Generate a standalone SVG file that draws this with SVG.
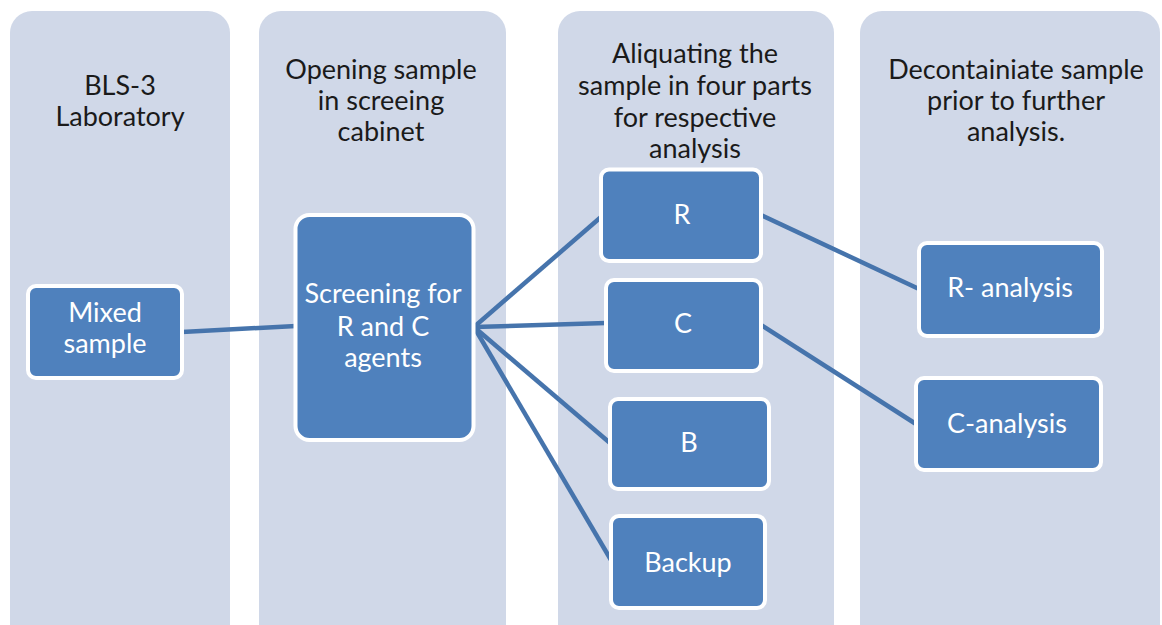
<svg xmlns="http://www.w3.org/2000/svg" width="1162" height="625" viewBox="0 0 1162 625">
<style>
.lane{fill:#D0D8E8;}
.node{fill:#4F81BD;stroke:#FFFFFF;stroke-width:4;}
.hdr{font-family:Lato,"Liberation Sans",sans-serif;font-size:27px;fill:#1a1a1a;text-anchor:middle;}
.lbl{font-family:Lato,"Liberation Sans",sans-serif;font-size:27px;fill:#FFFFFF;text-anchor:middle;}
.conn{stroke:#4674AC;stroke-width:4.5;fill:none;}
</style>
<rect width="1162" height="625" fill="#FFFFFF"/>
<g id="lanes">
<rect class="lane" x="10" y="11" width="220" height="640" rx="22"/>
<rect class="lane" x="259" y="11" width="247" height="640" rx="22"/>
<rect class="lane" x="558" y="11" width="276" height="640" rx="22"/>
<rect class="lane" x="860" y="11" width="300" height="640" rx="22"/>
<text class="hdr" x="120" y="95">BLS-3</text>
<text class="hdr" x="120" y="126">Laboratory</text>
<text class="hdr" x="381" y="79">Opening sample</text>
<text class="hdr" x="381" y="110">in screeing</text>
<text class="hdr" x="381" y="141">cabinet</text>
<text class="hdr" x="695" y="63">Aliquating the</text>
<text class="hdr" x="695" y="95">sample in four parts</text>
<text class="hdr" x="695" y="127">for respective</text>
<text class="hdr" x="695" y="158">analysis</text>
<text class="hdr" x="1016" y="79">Decontainiate sample</text>
<text class="hdr" x="1016" y="110">prior to further</text>
<text class="hdr" x="1016" y="141">analysis.</text>
</g>
<g id="connectors">
<line class="conn" x1="182" y1="332" x2="296" y2="326"/>
<line class="conn" x1="474" y1="327" x2="601" y2="217"/>
<line class="conn" x1="474" y1="327" x2="606" y2="323"/>
<line class="conn" x1="474" y1="327" x2="610" y2="443"/>
<line class="conn" x1="474" y1="327" x2="611" y2="560"/>
<line class="conn" x1="761" y1="215" x2="919" y2="289"/>
<line class="conn" x1="761" y1="325" x2="916" y2="424"/>
</g>
<g id="node-mixed">
<rect class="node" x="28" y="286" width="154" height="92" rx="8"/>
<text class="lbl" x="105" y="322">Mixed</text>
<text class="lbl" x="105" y="353">sample</text>
</g>
<g id="node-screening">
<rect class="node" x="295.5" y="215" width="178" height="225" rx="14"/>
<text class="lbl" x="383" y="303">Screening for</text>
<text class="lbl" x="383" y="336">R and C</text>
<text class="lbl" x="383" y="367">agents</text>
</g>
<g id="node-r">
<rect class="node" x="601" y="169.5" width="160" height="91.5" rx="8"/>
<text class="lbl" x="682" y="224">R</text>
</g>
<g id="node-c">
<rect class="node" x="606" y="280" width="155" height="91" rx="8"/>
<text class="lbl" x="683" y="333">C</text>
</g>
<g id="node-b">
<rect class="node" x="610" y="399" width="159" height="90" rx="8"/>
<text class="lbl" x="689" y="452">B</text>
</g>
<g id="node-backup">
<rect class="node" x="611" y="516" width="154" height="92" rx="8"/>
<text class="lbl" x="688" y="572">Backup</text>
</g>
<g id="node-r-analysis">
<rect class="node" x="919" y="243" width="183" height="93" rx="8"/>
<text class="lbl" x="1010" y="297">R- analysis</text>
</g>
<g id="node-c-analysis">
<rect class="node" x="916" y="378" width="185" height="92" rx="8"/>
<text class="lbl" x="1007" y="433">C-analysis</text>
</g>
</svg>
